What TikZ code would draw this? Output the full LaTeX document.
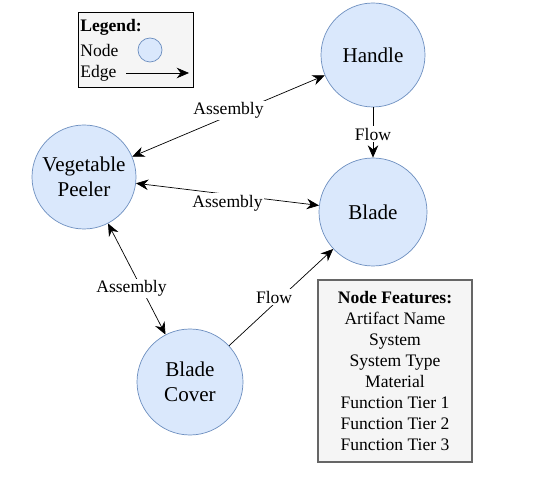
\documentclass[tikz,border=0pt]{standalone}
\usepackage{fontspec}
\setmainfont{Liberation Serif}
\usetikzlibrary{arrows.meta, positioning}

\definecolor{peelerfill}{HTML}{DAE8FC}
\definecolor{peelerline}{HTML}{6C8EBF}
\definecolor{boxfill}{HTML}{F5F5F5}
\definecolor{boxline}{HTML}{666666}

\begin{document}
\begin{tikzpicture}[x=0.02cm, y=-0.02cm, >={Stealth[length=7pt, width=6pt]},
    artifact/.style={circle, draw=peelerline, fill=peelerfill, align=center,
        inner sep=0pt, font=\fontsize{12}{14}\selectfont},
    edgelabel/.style={fill=white, inner sep=1pt, font=\fontsize{10}{12}\selectfont},
    legendtext/.style={anchor=west, inner sep=0pt, font=\fontsize{10}{12}\selectfont}]

    \useasboundingbox (0,0) rectangle (534,496);

    % =================================================================
    % 1. CÁC NÚT CHI TIẾT
    % =================================================================
    \node[artifact, minimum size=104*0.02cm] (Handle) at (373,55) {Handle};
    \node[artifact, minimum size=104*0.02cm] (Peeler) at (84,177) {Vegetable\\Peeler};
    \node[artifact, minimum size=108*0.02cm] (Blade) at (373,212) {Blade};
    \node[artifact, minimum size=106*0.02cm] (Cover) at (190,382) {Blade\\Cover};

    % =================================================================
    % 2. CÁC CẠNH NỐI
    % =================================================================
    \draw[<->] (Peeler) -- node[edgelabel, yshift=3pt] {Assembly} (Handle);
    \draw[<->] (Peeler) -- node[edgelabel, yshift=-5pt] {Assembly} (Blade);
    \draw[->] (Handle) -- node[edgelabel, yshift=-1pt] {Flow} (Blade);
    \draw[<->] (Peeler) -- node[edgelabel, xshift=-3pt, yshift=-5.5pt] {Assembly} (Cover);
    \draw[->] (Cover) -- node[edgelabel, xshift=-4pt] {Flow} (Blade);

    % =================================================================
    % 3. CHÚ THÍCH
    % =================================================================
    \node[draw, fill=boxfill, minimum width=115*0.02cm, minimum height=75*0.02cm,
        inner sep=0pt] (Legend) at (135.5,49.5) {};
    \node[legendtext, font=\fontsize{10}{12}\selectfont\bfseries] (LegendTitle) at (80,27) {Legend:};
    \node[legendtext] (LegendNode) at (80,50) {Node};
    \node[legendtext] (LegendEdge) at (80,73) {Edge};
    \node[circle, draw=peelerline, fill=peelerfill, minimum size=24*0.02cm,
        inner sep=0pt] (LegendCircle) at (150,50) {};
    \coordinate (EdgeStart) at (126,73);
    \coordinate (EdgeEnd) at (189,73);
    \draw[->] (EdgeStart) -- (EdgeEnd);

    % Bảng thuộc tính của nút
    \node[draw=boxline, thick, fill=boxfill, minimum width=154*0.02cm, minimum height=182*0.02cm,
        align=center, font=\fontsize{10}{12}\selectfont] (Features) at (395,371)
        {\textbf{Node Features:}\\Artifact Name\\System\\System Type\\Material\\
         Function Tier 1\\Function Tier 2\\Function Tier 3};

\end{tikzpicture}
\end{document}
